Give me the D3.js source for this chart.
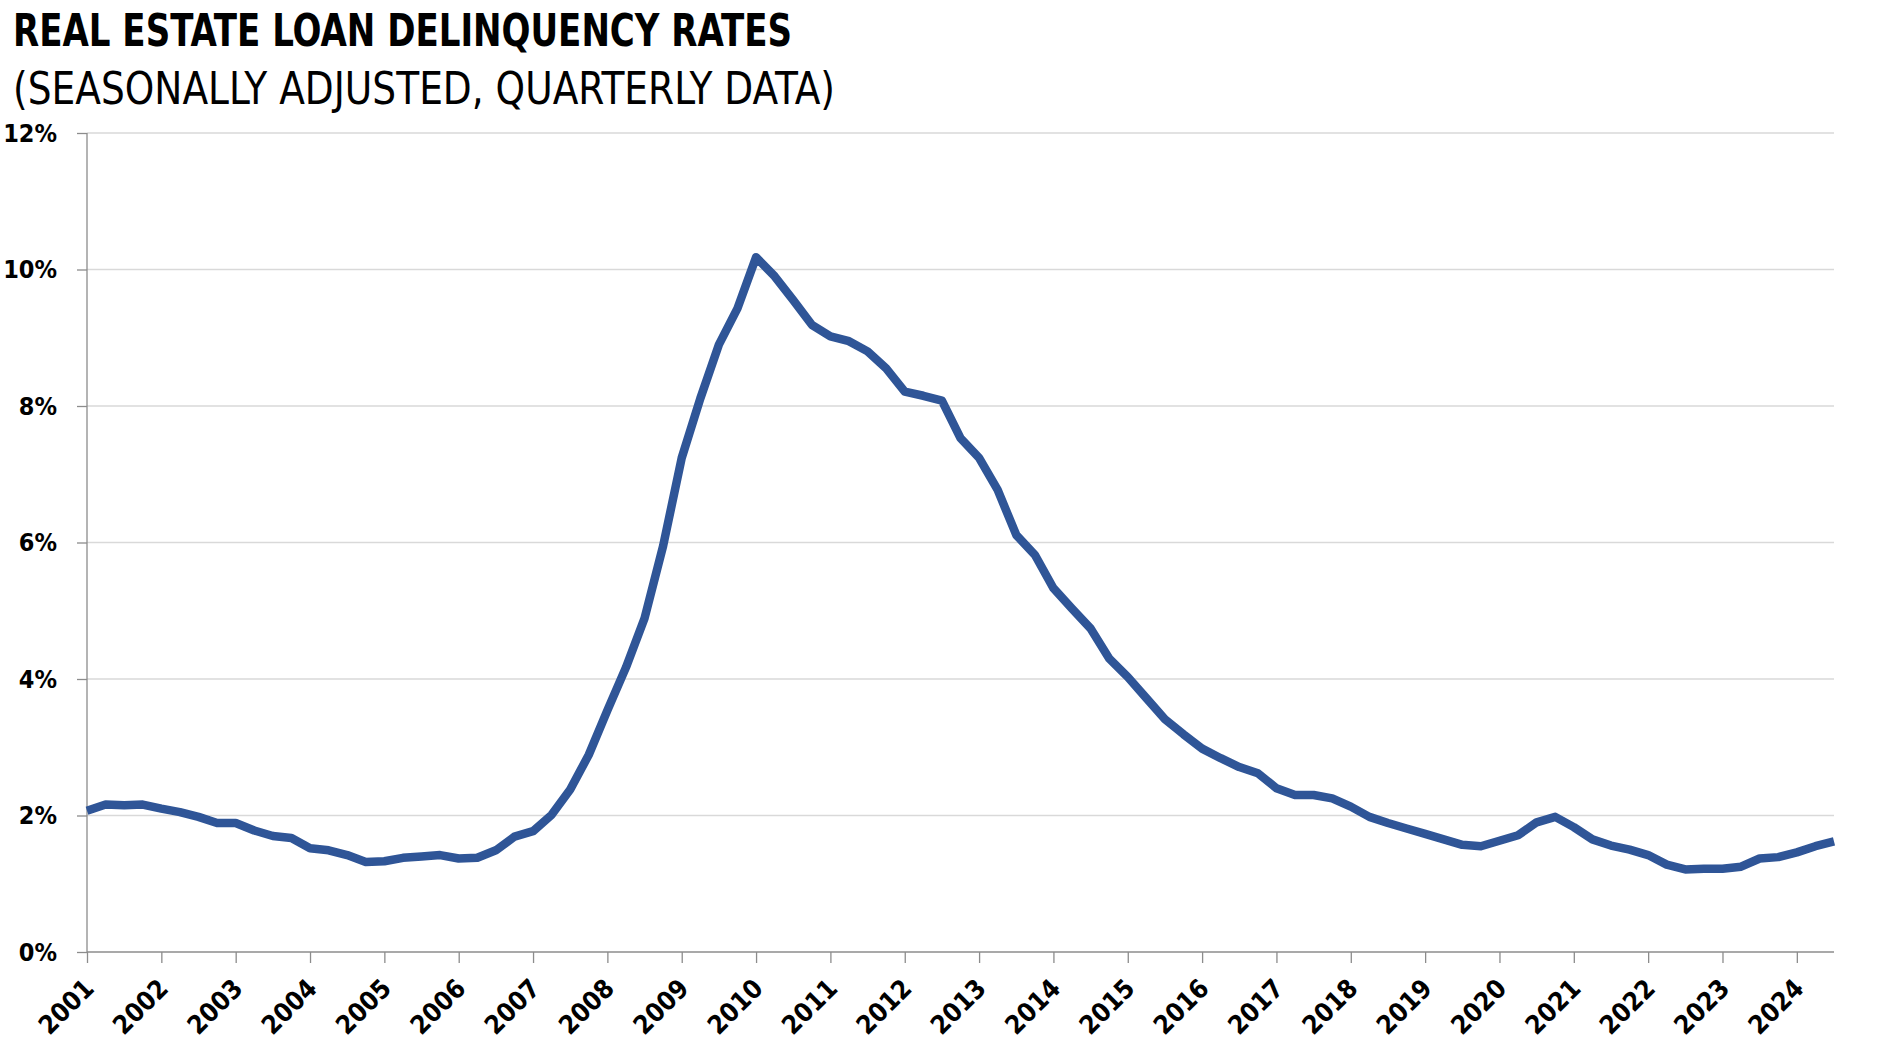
<!DOCTYPE html>
<html>
<head>
    <meta charset="utf-8">
    <script src="https://d3js.org/d3.v7.min.js"></script>
    <style>
        body {
            margin: 0px;
            background: #ffffff;
        }
        .title {
            font-family: "Liberation Sans Narrow", "DejaVu Sans Condensed", "Open Sans", sans-serif;
            fill: #000000;
        }
        .axis text {
            font-family: "Liberation Sans Narrow", "DejaVu Sans Condensed", "Open Sans", sans-serif;
            font-weight: 700;
            fill: #000000;
        }
        .y.axis text {
            font-size: 25px;
        }
        .x.axis text {
            font-size: 26px;
        }
        .axis path, .axis line {
            stroke: #8c8c8c;
            stroke-width: 1.3px;
        }
        .grid line {
            stroke: #d9d9d9;
            stroke-width: 1.3px;
        }
    </style>
</head>
<body>
<script type="text/javascript">
    // Year labels shown on the x axis (one tick per first quarter)
    var years = ["2001", "2002", "2003", "2004", "2005", "2006", "2007", "2008",
                 "2009", "2010", "2011", "2012", "2013", "2014", "2015", "2016",
                 "2017", "2018", "2019", "2020", "2021", "2022", "2023", "2024"];
    var quarterNames = ["Q1", "Q2", "Q3", "Q4"];

    // Delinquency rate, percent, 2001 Q1 through 2024 Q3
    var rates = [
        2.07, 2.16, 2.15, 2.16,   2.10, 2.05, 1.98, 1.89,
        1.89, 1.78, 1.70, 1.67,   1.52, 1.49, 1.42, 1.32,
        1.33, 1.38, 1.40, 1.42,   1.37, 1.38, 1.49, 1.69,
        1.77, 2.01, 2.38, 2.89,   3.54, 4.17, 4.89, 5.95,
        7.24, 8.11, 8.90, 9.43,   10.18, 9.90, 9.55, 9.19,
        9.02, 8.95, 8.80, 8.55,   8.21, 8.15, 8.08, 7.53,
        7.24, 6.77, 6.11, 5.82,   5.33, 5.03, 4.74, 4.30,
        4.03, 3.72, 3.41, 3.19,   2.98, 2.84, 2.71, 2.62,
        2.40, 2.30, 2.30, 2.25,   2.13, 1.98, 1.89, 1.81,
        1.73, 1.65, 1.57, 1.55,   1.63, 1.71, 1.90, 1.98,
        1.83, 1.65, 1.56, 1.50,   1.42, 1.28, 1.21, 1.22,
        1.22, 1.25, 1.37, 1.39,   1.46, 1.55, 1.62
    ];

    var yTicks = [0, 2, 4, 6, 8, 10, 12];

    function draw() {
        "use strict";
        var width = 1885, height = 1063;
        var left = 87, right = 1834, top = 133, bottom = 952;

        // quarter categories built from the year labels
        var quarters = [];
        years.forEach(function(y) {
            quarterNames.forEach(function(q) { quarters.push(y + " " + q); });
        });
        quarters = quarters.slice(0, rates.length);
        var data = quarters.map(function(q, i) { return {q: q, v: rates[i]}; });

        var svg = d3.select("body").append("svg")
            .attr("width", width)
            .attr("height", height);

        // Titles
        svg.append("text")
            .attr("class", "title")
            .attr("x", 13)
            .attr("y", 46)
            .style("font-size", "44px")
            .style("font-weight", "700")
            .attr("textLength", 779)
            .attr("lengthAdjust", "spacingAndGlyphs")
            .text("REAL ESTATE LOAN DELINQUENCY RATES");

        svg.append("text")
            .attr("class", "title")
            .attr("x", 13)
            .attr("y", 104)
            .style("font-size", "44px")
            .style("font-weight", "400")
            .attr("textLength", 822)
            .attr("lengthAdjust", "spacingAndGlyphs")
            .text("(SEASONALLY ADJUSTED, QUARTERLY DATA)");

        var x = d3.scalePoint()
            .domain(quarters)
            .range([left, right]);

        var y = d3.scaleLinear()
            .domain([0, 12])
            .range([bottom, top]);

        // gridlines
        svg.append("g")
            .attr("class", "grid")
            .selectAll("line")
            .data(yTicks.filter(function(d) { return d > 0; }))
            .enter().append("line")
            .attr("x1", left)
            .attr("x2", right)
            .attr("y1", function(d) { return y(d); })
            .attr("y2", function(d) { return y(d); });

        // y axis
        var yAxis = svg.append("g")
            .attr("class", "y axis")
            .attr("transform", "translate(" + left + ",0)")
            .call(d3.axisLeft(y)
                .tickValues(yTicks)
                .tickSize(10)
                .tickPadding(20)
                .tickFormat(function(d) { return d + "%"; }));
        yAxis.select(".domain").attr("d", "M0," + top + "V" + bottom);

        // x axis
        var xAxis = svg.append("g")
            .attr("class", "x axis")
            .attr("transform", "translate(0," + bottom + ")")
            .call(d3.axisBottom(x)
                .tickValues(quarters.filter(function(q) { return q.slice(-2) === "Q1"; }))
                .tickSize(11)
                .tickFormat(function(q) { return q.slice(0, 4); }));
        xAxis.select(".domain").attr("d", "M" + left + ",0H" + right);
        xAxis.selectAll(".tick text")
            .attr("text-anchor", "end")
            .attr("dy", null)
            .attr("y", null)
            .attr("transform", "translate(8,38) rotate(-45)");

        // the line
        var line = d3.line()
            .x(function(d) { return x(d.q); })
            .y(function(d) { return y(d.v); });

        svg.append("path")
            .datum(data)
            .attr("fill", "none")
            .attr("stroke", "#2f5597")
            .attr("stroke-width", 8.5)
            .attr("stroke-linejoin", "round")
            .attr("d", line);
    }

    draw();
</script>
</body>
</html>
